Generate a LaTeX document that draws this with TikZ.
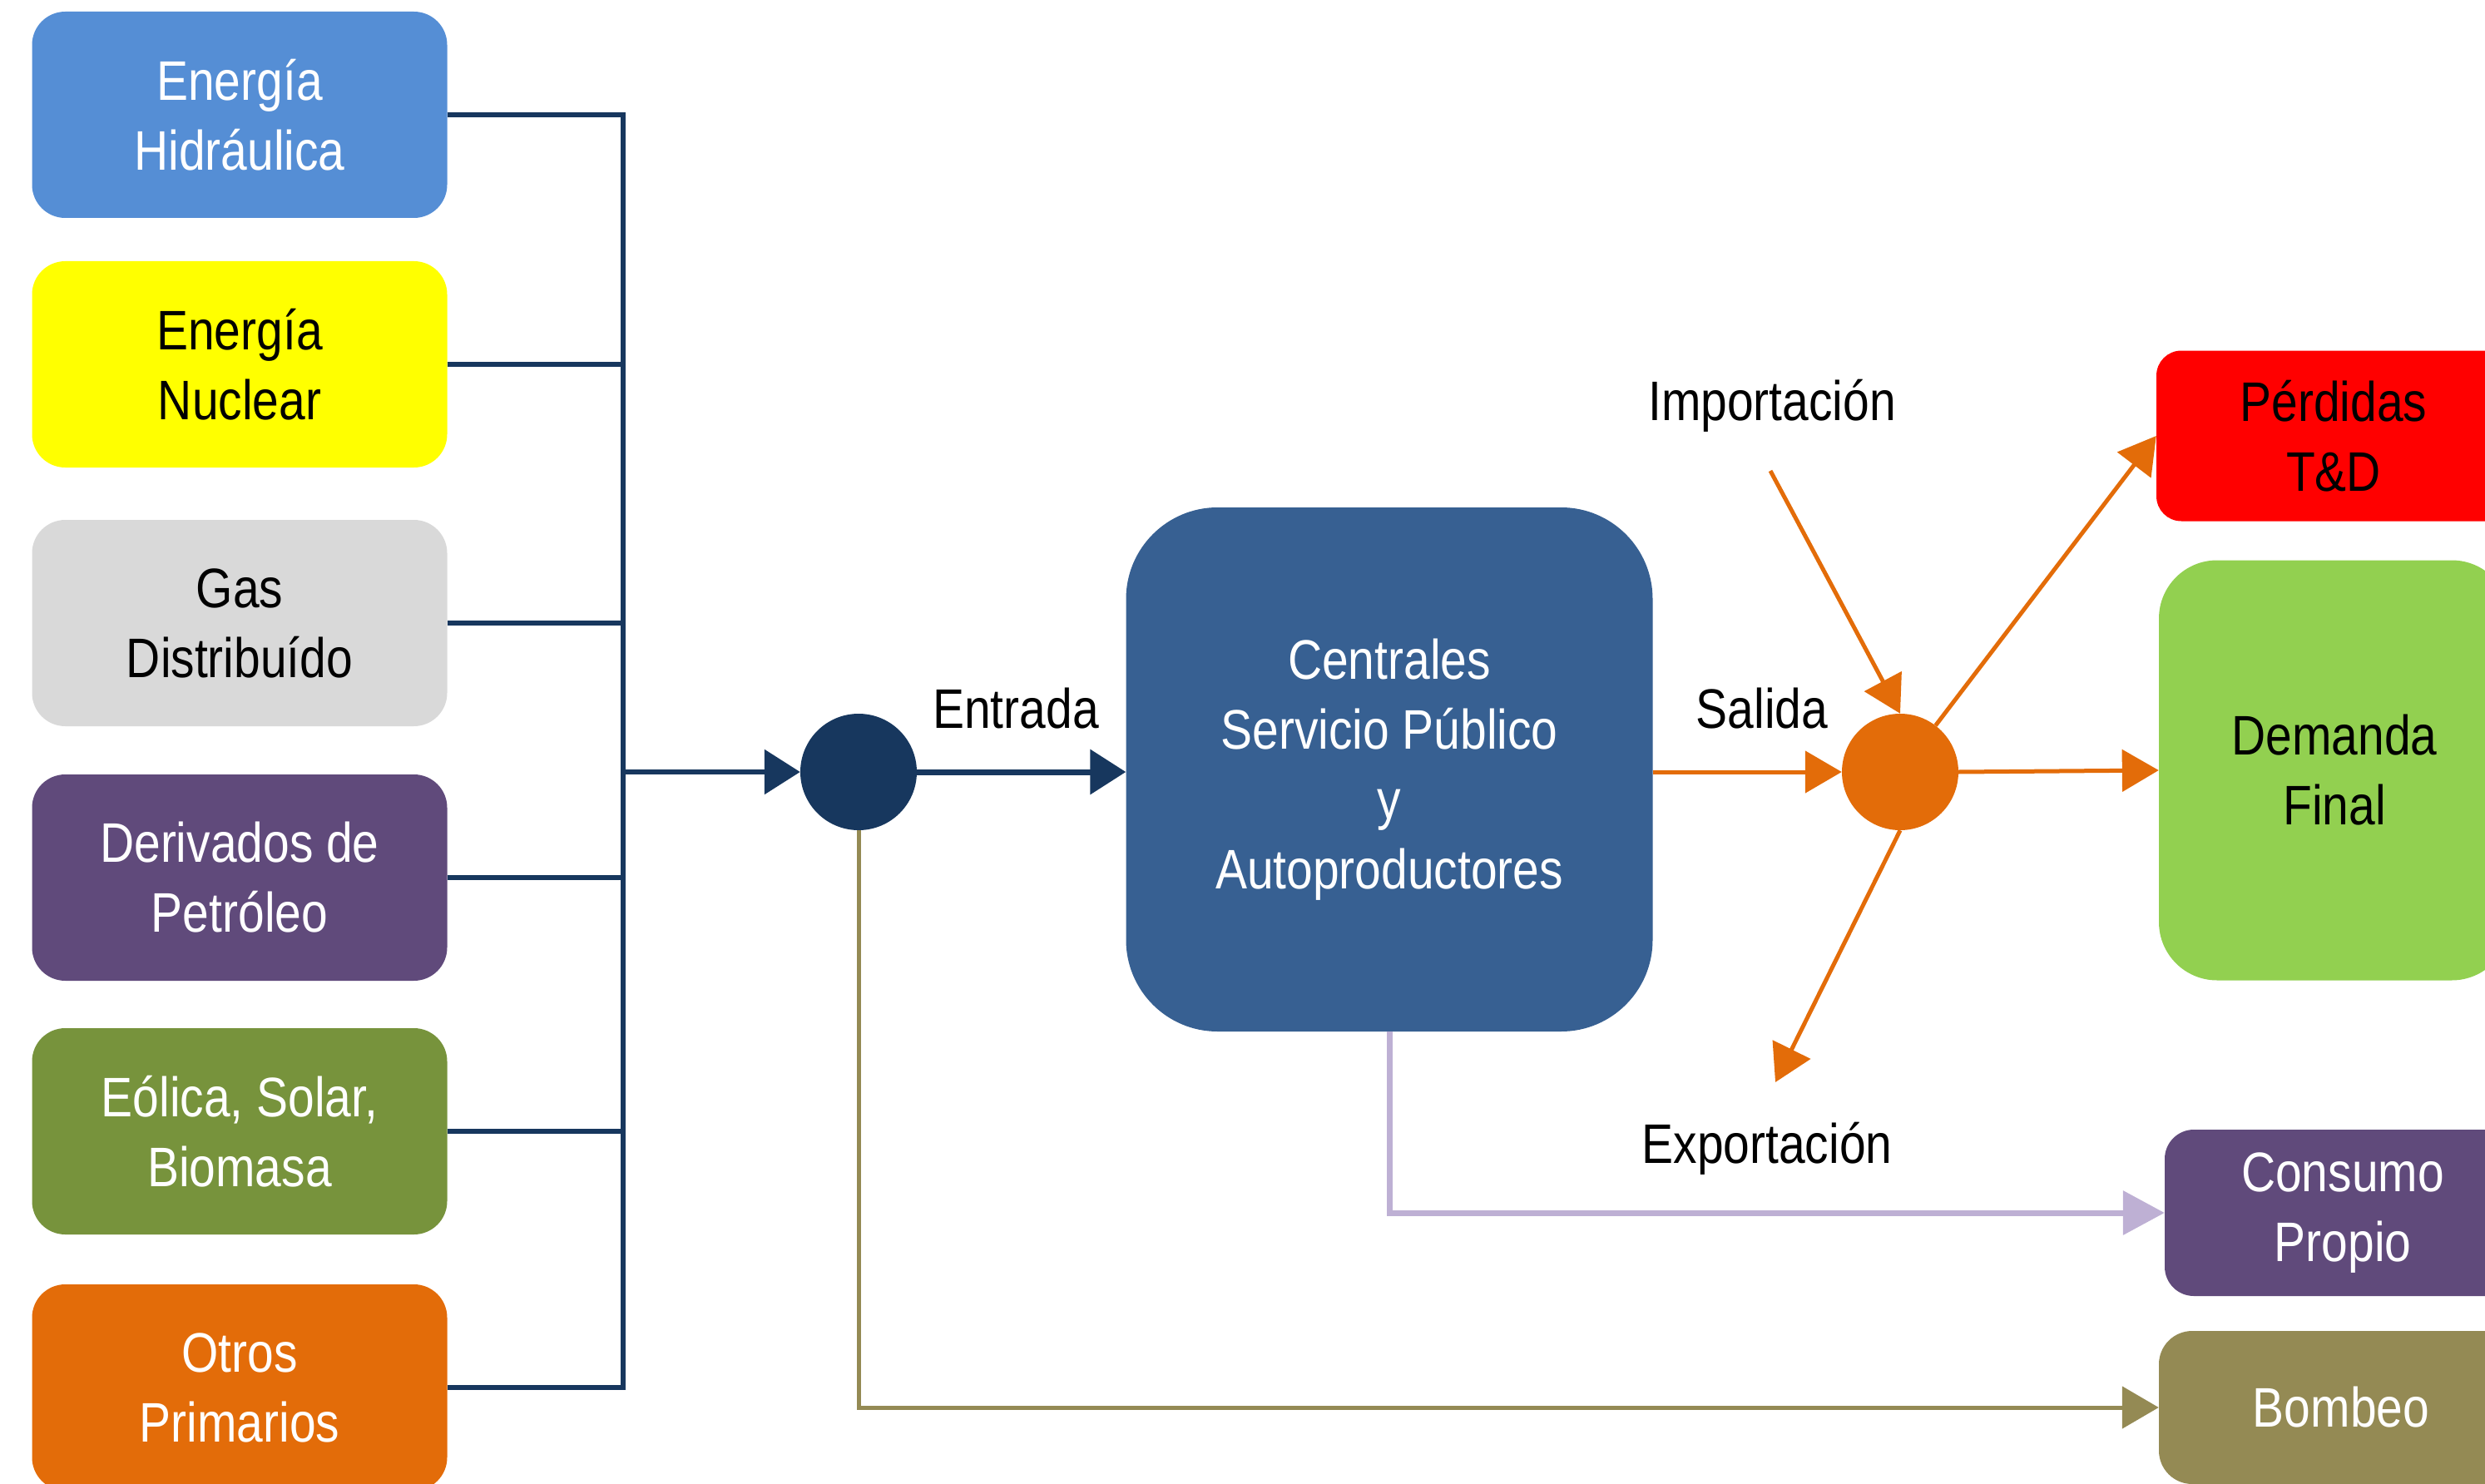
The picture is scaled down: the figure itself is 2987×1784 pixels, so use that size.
\documentclass[tikz,border=0pt]{standalone}
\usepackage{fontspec}
\setmainfont{Liberation Sans}[FakeStretch=0.85]
\usetikzlibrary{arrows.meta}
\definecolor{cHid}{RGB}{85,142,213}
\definecolor{cNuc}{RGB}{255,255,0}
\definecolor{cGas}{RGB}{217,217,217}
\definecolor{cDer}{RGB}{96,74,123}
\definecolor{cEol}{RGB}{119,147,60}
\definecolor{cOtr}{RGB}{227,108,9}
\definecolor{cCen}{RGB}{55,96,146}
\definecolor{cDark}{RGB}{23,55,94}
\definecolor{cOrange}{RGB}{227,108,9}
\definecolor{cRed}{RGB}{255,0,0}
\definecolor{cDem}{RGB}{146,208,80}
\definecolor{cCons}{RGB}{96,74,123}
\definecolor{cBomb}{RGB}{148,138,84}
\definecolor{cLav}{RGB}{190,176,212}
\begin{document}
\begin{tikzpicture}[x=1pt,y=-1pt,
  txt/.style={font=\fontsize{67}{84}\selectfont, align=center, inner sep=0pt},
  srcbox/.style={txt, rounded corners=40pt, minimum width=499pt, minimum height=248pt},
  dot/.style={circle, minimum size=140pt, inner sep=0pt},
  bus/.style={draw=cDark, line width=6pt},
  darr/.style={-{Triangle[length=43pt,width=53pt]}},
  orarr/.style={draw=cOrange, line width=5pt, -{Triangle[length=44pt,width=50pt]}},
]
\useasboundingbox (0,0) rectangle (2987,1784);
\clip (0,0) rectangle (2987,1784);

% source boxes
\node[srcbox, fill=cHid, text=white] (hid) at (288,138) {Energía\\Hidráulica};
\node[srcbox, fill=cNuc, text=black] (nuc) at (288,438) {Energía\\Nuclear};
\node[srcbox, fill=cGas, text=black] (gas) at (288,749) {Gas\\Distribuído};
\node[srcbox, fill=cDer, text=white] (der) at (288,1055) {Derivados de\\Petróleo};
\node[srcbox, fill=cEol, text=white] (eol) at (288,1360) {Eólica, Solar,\\Biomasa};
\node[srcbox, fill=cOtr, text=white] (otr) at (288,1668) {Otros\\Primarios};

% hubs
\node[dot, fill=cDark] (dc) at (1032,928) {};
\node[dot, fill=cOrange] (oc) at (2284,928) {};

% central
\node[txt, fill=cCen, text=white, rounded corners=110pt, minimum width=633pt, minimum height=630pt] (cen) at (1670,925)
  {Centrales\\Servicio Público\\y\\Autoproductores};

% outputs
\node[txt, fill=cRed, text=black, rounded corners=30pt, minimum width=426pt, minimum height=205pt] (perd) at (2805,524) {Pérdidas\\T\&D};
\node[txt, fill=cDem, text=black, rounded corners=70pt, minimum width=422pt, minimum height=505pt] (dem) at (2806,926) {Demanda\\Final};
\node[txt, fill=cCons, text=white, rounded corners=35pt, minimum width=428pt, minimum height=200pt] (cons) at (2816,1458) {Consumo\\Propio};
\node[txt, fill=cBomb, text=white, rounded corners=40pt, minimum width=438pt, minimum height=184pt] (bomb) at (2814,1692) {Bombeo};

% labels
\node[txt] (lEnt) at (1221,852) {Entrada};
\node[txt] (lSal) at (2118,852) {Salida};
\node[txt] (lImp) at (2130,488) {Importación};
\node[txt] (lExp) at (2124,1381) {Exportación};

% bus
\coordinate (bustop) at (749,138);
\coordinate (busbot) at (749,1668);
\coordinate (busmid) at (749,928);
\draw[bus] (hid.east) -- (bustop) -- (busbot) -- (otr.east);
\draw[bus] (nuc.east) -- (nuc.east -| bustop);
\draw[bus] (gas.east) -- (gas.east -| bustop);
\draw[bus] (der.east) -- (der.east -| bustop);
\draw[bus] (eol.east) -- (eol.east -| bustop);
\draw[bus, darr] (busmid) -- (dc.west);

% entrada
\draw[bus, line width=7pt, darr] (dc.east) -- (dc.east -| cen.west);

% salida and orange flows
\draw[orarr] (oc.west -| cen.east) -- (oc.west);
\coordinate (impst) at (2128,566);
\draw[orarr] (impst) -- (oc.north);
\draw[orarr] (oc) -- (perd.west);
\draw[orarr] (oc.east) -- (dem.west);
\coordinate (exptip) at (2134,1301);
\draw[orarr] (oc.south) -- (exptip);

% consumo propio and bombeo
\draw[draw=cLav, line width=7pt, -{Triangle[length=50pt,width=52pt]}] (cen.south) |- (cons.west);
\draw[draw=cBomb, line width=5pt, -{Triangle[length=44pt,width=50pt]}] (dc.south) |- (bomb.west);
\end{tikzpicture}
\end{document}
